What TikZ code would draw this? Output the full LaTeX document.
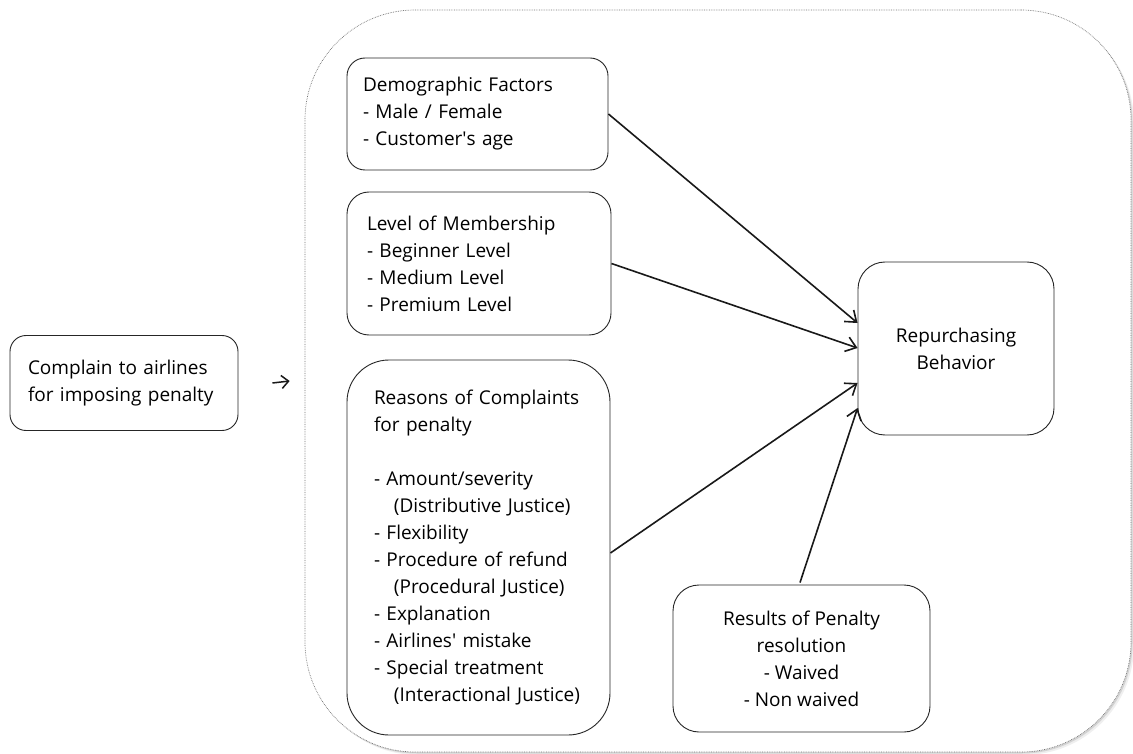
\documentclass[tikz,border=0pt]{standalone}
\usepackage{fontspec}
\setmainfont{Open Sans}
\usetikzlibrary{arrows.meta,calc,shadows}
\begin{document}
\begin{tikzpicture}[x=1pt,y=-1pt,
  every node/.style={font=\fontsize{19}{27}\selectfont, text=black},
  tbox/.style={draw=black!85, line width=0.9pt, fill=white, inner ysep=0pt, align=left},
  cbox/.style={draw=black!85, line width=0.9pt, fill=white, inner sep=0pt, align=center},
  frame/.style={draw=black!55, densely dotted, line width=0.7pt, fill=white, rounded corners=110pt,
    inner sep=0pt, minimum width=826pt, minimum height=742pt,
    drop shadow={shadow xshift=3pt, shadow yshift=-3pt, opacity=0.12},
    drop shadow={shadow xshift=1.5pt, shadow yshift=-1.5pt, opacity=0.25}},
  link/.style={line width=1.6pt, black!90, -{Straight Barb[length=10pt,width=15pt,line width=1.6pt]}},
  small/.style={line width=1.5pt, black!90, -{Straight Barb[length=7pt,width=13pt,line width=1.5pt]}}
]
\useasboundingbox (0,0) rectangle (1133,754);
\fill[white] (0,0) rectangle (1133,754);

\node[frame] (frame) at (718,381) {};

\node[tbox, rounded corners=16pt, inner xsep=18pt, text width=192pt, minimum height=95pt] (L) at (124,383)
  {Complain to airlines\\for imposing penalty};

\node[tbox, rounded corners=18pt, inner xsep=16pt, text width=229pt, minimum height=112pt] (demo) at (477.5,114)
  {Demographic Factors\\- Male / Female\\- Customer\textquotesingle s age};

\node[tbox, rounded corners=22pt, inner xsep=20pt, text width=224pt, minimum height=143pt] (memb) at (479,263.5)
  {Level of Membership\\- Beginner Level\\- Medium Level\\- Premium Level};

\node[tbox, rounded corners=42pt, inner xsep=27pt, text width=209pt, minimum height=375pt] (reas) at (478.5,547.5)
  {Reasons of Complaints\\for penalty\\[27pt]
   - Amount/severity\\\hspace*{1.05em}(Distributive Justice)\\
   - Flexibility\\
   - Procedure of refund\\\hspace*{1.05em}(Procedural Justice)\\
   - Explanation\\
   - Airlines\textquotesingle\ mistake\\
   - Special treatment\\\hspace*{1.05em}(Interactional Justice)};

\node[cbox, rounded corners=27pt, minimum width=196pt, minimum height=173pt] (rep) at (956,348.5)
  {Repurchasing\\Behavior};

\node[cbox, rounded corners=26pt, minimum width=257pt, minimum height=147pt] (res) at (801.5,658.5)
  {Results of Penalty\\resolution\\- Waived\\- Non waived};

\draw[small] ($(L.east)+(34,0)$) -- ($(frame.west)+(-15,0)$);

\draw[link] (demo.east) -- ($(rep.west)+(0,-25.5)$);
\draw[link] (memb.east) -- ($(rep.west)+(0,-0.5)$);
\draw[link] ($(reas.east)+(0,5.5)$) -- ($(rep.west)+(0,34.5)$);
\draw[link] ($(res.north)+(-1.5,-2)$) -- ($(rep.west)+(0,59.5)$);
\end{tikzpicture}
\end{document}
